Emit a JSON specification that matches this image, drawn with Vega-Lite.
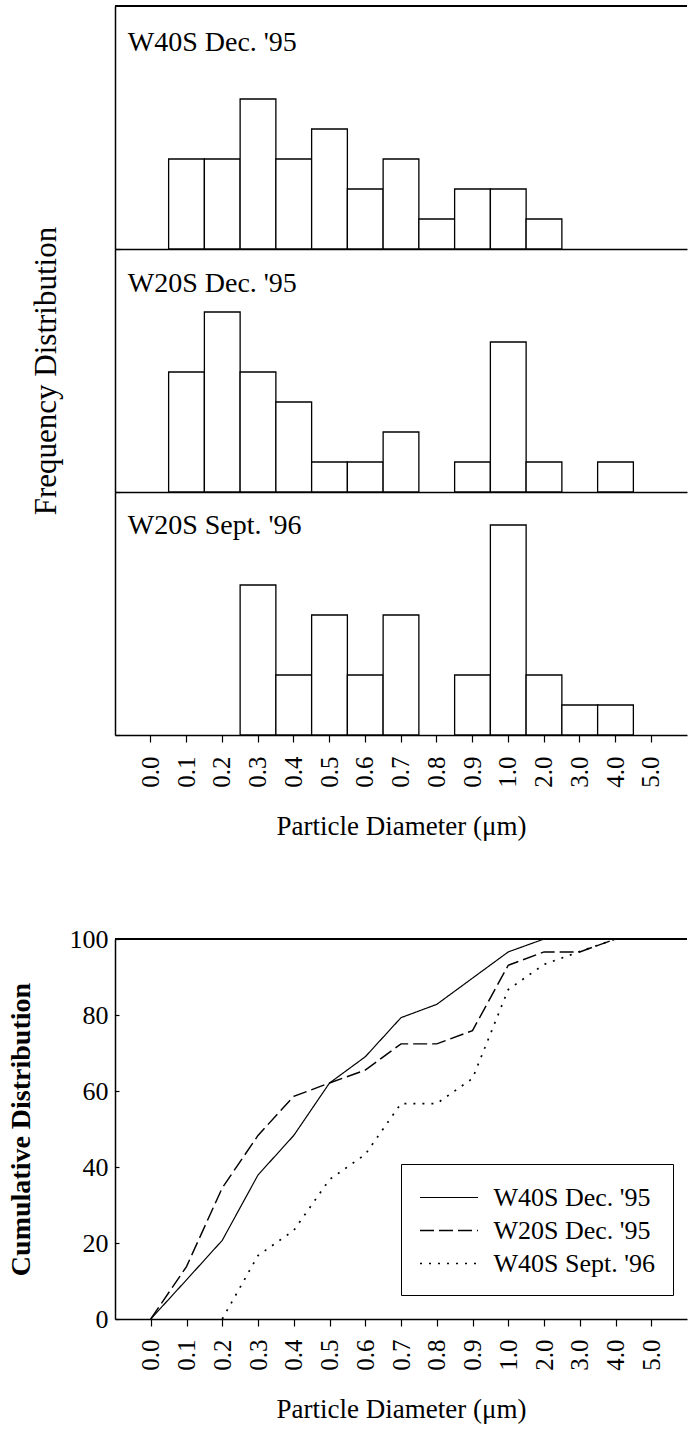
{
  "$schema": "https://vega.github.io/schema/vega-lite/v6.json",
  "background": "white",
  "padding": {"left": 7, "top": 5, "right": 0, "bottom": 5},
  "config": {
    "font": "Liberation Serif",
    "view": {"stroke": null},
    "axis": {"labelFont": "Liberation Serif", "titleFont": "Liberation Serif", "labelColor": "black", "titleColor": "black", "domainColor": "black", "tickColor": "black", "grid": false, "titleFontWeight": "normal", "domainWidth": 1.5, "tickWidth": 1.2},
    "legend": {"labelFont": "Liberation Serif", "labelColor": "black"}
  },
  "datasets": {
    "hist": [
      {"sample": "W40S Dec. '95", "diameter": "0.1", "count": 3},
      {"sample": "W40S Dec. '95", "diameter": "0.2", "count": 3},
      {"sample": "W40S Dec. '95", "diameter": "0.3", "count": 5},
      {"sample": "W40S Dec. '95", "diameter": "0.4", "count": 3},
      {"sample": "W40S Dec. '95", "diameter": "0.5", "count": 4},
      {"sample": "W40S Dec. '95", "diameter": "0.6", "count": 2},
      {"sample": "W40S Dec. '95", "diameter": "0.7", "count": 3},
      {"sample": "W40S Dec. '95", "diameter": "0.8", "count": 1},
      {"sample": "W40S Dec. '95", "diameter": "0.9", "count": 2},
      {"sample": "W40S Dec. '95", "diameter": "1.0", "count": 2},
      {"sample": "W40S Dec. '95", "diameter": "2.0", "count": 1},
      {"sample": "W20S Dec. '95", "diameter": "0.1", "count": 4},
      {"sample": "W20S Dec. '95", "diameter": "0.2", "count": 6},
      {"sample": "W20S Dec. '95", "diameter": "0.3", "count": 4},
      {"sample": "W20S Dec. '95", "diameter": "0.4", "count": 3},
      {"sample": "W20S Dec. '95", "diameter": "0.5", "count": 1},
      {"sample": "W20S Dec. '95", "diameter": "0.6", "count": 1},
      {"sample": "W20S Dec. '95", "diameter": "0.7", "count": 2},
      {"sample": "W20S Dec. '95", "diameter": "0.9", "count": 1},
      {"sample": "W20S Dec. '95", "diameter": "1.0", "count": 5},
      {"sample": "W20S Dec. '95", "diameter": "2.0", "count": 1},
      {"sample": "W20S Dec. '95", "diameter": "4.0", "count": 1},
      {"sample": "W20S Sept. '96", "diameter": "0.3", "count": 5},
      {"sample": "W20S Sept. '96", "diameter": "0.4", "count": 2},
      {"sample": "W20S Sept. '96", "diameter": "0.5", "count": 4},
      {"sample": "W20S Sept. '96", "diameter": "0.6", "count": 2},
      {"sample": "W20S Sept. '96", "diameter": "0.7", "count": 4},
      {"sample": "W20S Sept. '96", "diameter": "0.9", "count": 2},
      {"sample": "W20S Sept. '96", "diameter": "1.0", "count": 7},
      {"sample": "W20S Sept. '96", "diameter": "2.0", "count": 2},
      {"sample": "W20S Sept. '96", "diameter": "3.0", "count": 1},
      {"sample": "W20S Sept. '96", "diameter": "4.0", "count": 1}
    ],
    "cum": [
      {"series": "W40S Dec. '95", "diameter": "0.0", "percent": 0},
      {"series": "W40S Dec. '95", "diameter": "0.1", "percent": 10.3},
      {"series": "W40S Dec. '95", "diameter": "0.2", "percent": 20.7},
      {"series": "W40S Dec. '95", "diameter": "0.3", "percent": 37.9},
      {"series": "W40S Dec. '95", "diameter": "0.4", "percent": 48.3},
      {"series": "W40S Dec. '95", "diameter": "0.5", "percent": 62.1},
      {"series": "W40S Dec. '95", "diameter": "0.6", "percent": 69.0},
      {"series": "W40S Dec. '95", "diameter": "0.7", "percent": 79.3},
      {"series": "W40S Dec. '95", "diameter": "0.8", "percent": 82.8},
      {"series": "W40S Dec. '95", "diameter": "0.9", "percent": 89.7},
      {"series": "W40S Dec. '95", "diameter": "1.0", "percent": 96.6},
      {"series": "W40S Dec. '95", "diameter": "2.0", "percent": 100},
      {"series": "W20S Dec. '95", "diameter": "0.0", "percent": 0},
      {"series": "W20S Dec. '95", "diameter": "0.1", "percent": 13.8},
      {"series": "W20S Dec. '95", "diameter": "0.2", "percent": 34.5},
      {"series": "W20S Dec. '95", "diameter": "0.3", "percent": 48.3},
      {"series": "W20S Dec. '95", "diameter": "0.4", "percent": 58.6},
      {"series": "W20S Dec. '95", "diameter": "0.5", "percent": 62.1},
      {"series": "W20S Dec. '95", "diameter": "0.6", "percent": 65.5},
      {"series": "W20S Dec. '95", "diameter": "0.7", "percent": 72.4},
      {"series": "W20S Dec. '95", "diameter": "0.8", "percent": 72.4},
      {"series": "W20S Dec. '95", "diameter": "0.9", "percent": 75.9},
      {"series": "W20S Dec. '95", "diameter": "1.0", "percent": 93.1},
      {"series": "W20S Dec. '95", "diameter": "2.0", "percent": 96.6},
      {"series": "W20S Dec. '95", "diameter": "3.0", "percent": 96.6},
      {"series": "W20S Dec. '95", "diameter": "4.0", "percent": 100},
      {"series": "W40S Sept. '96", "diameter": "0.2", "percent": 0},
      {"series": "W40S Sept. '96", "diameter": "0.3", "percent": 16.7},
      {"series": "W40S Sept. '96", "diameter": "0.4", "percent": 23.3},
      {"series": "W40S Sept. '96", "diameter": "0.5", "percent": 36.7},
      {"series": "W40S Sept. '96", "diameter": "0.6", "percent": 43.3},
      {"series": "W40S Sept. '96", "diameter": "0.7", "percent": 56.7},
      {"series": "W40S Sept. '96", "diameter": "0.8", "percent": 56.7},
      {"series": "W40S Sept. '96", "diameter": "0.9", "percent": 63.3},
      {"series": "W40S Sept. '96", "diameter": "1.0", "percent": 86.7},
      {"series": "W40S Sept. '96", "diameter": "2.0", "percent": 93.3},
      {"series": "W40S Sept. '96", "diameter": "3.0", "percent": 96.7},
      {"series": "W40S Sept. '96", "diameter": "4.0", "percent": 100}
    ]
  },
  "spacing": 86,
  "resolve": {"legend": {"strokeDash": "independent", "strokeWidth": "independent"}},
  "vconcat": [
    {
      "spacing": 0,
      "bounds": "flush",
      "vconcat": [
        {
          "width": 572,
          "height": 243,
          "data": {"name": "hist"},
          "transform": [{"filter": "datum.sample === \"W40S Dec. '95\""}],
          "layer": [
            {
              "mark": {"type": "bar", "fill": "white", "stroke": "black", "strokeWidth": 1.3},
              "encoding": {
                "x": {"field": "diameter", "type": "ordinal", "scale": {"type": "band", "domain": ["0.0", "0.1", "0.2", "0.3", "0.4", "0.5", "0.6", "0.7", "0.8", "0.9", "1.0", "2.0", "3.0", "4.0", "5.0"], "paddingInner": 0, "paddingOuter": 0.5}, "axis": {"title": null, "labels": false, "ticks": false}},
                "y": {"field": "count", "type": "quantitative", "scale": {"domain": [0, 8.1], "nice": false}, "axis": {"title": null, "labels": false, "values": [0], "tickSize": -5}}
              }
            },
            {
              "mark": {"type": "rule", "color": "black", "strokeWidth": 1.5},
              "encoding": {"y": {"datum": 8.1, "type": "quantitative"}}
            },
            {
              "transform": [{"aggregate": [{"op": "count", "as": "n"}], "groupby": ["sample"]}],
              "mark": {"type": "text", "align": "left", "baseline": "alphabetic", "font": "Liberation Serif", "fontSize": 28, "color": "black", "dx": -23, "dy": 45},
              "encoding": {"x": {"datum": "0.0"}, "y": {"datum": 8.1, "type": "quantitative"}, "text": {"field": "sample"}}
            }
          ]
        },
        {
          "width": 572,
          "height": 243,
          "data": {"name": "hist"},
          "transform": [{"filter": "datum.sample === \"W20S Dec. '95\""}],
          "layer": [
            {
              "mark": {"type": "bar", "fill": "white", "stroke": "black", "strokeWidth": 1.3},
              "encoding": {
                "x": {"field": "diameter", "type": "ordinal", "scale": {"type": "band", "domain": ["0.0", "0.1", "0.2", "0.3", "0.4", "0.5", "0.6", "0.7", "0.8", "0.9", "1.0", "2.0", "3.0", "4.0", "5.0"], "paddingInner": 0, "paddingOuter": 0.5}, "axis": {"title": null, "labels": false, "ticks": false}},
                "y": {"field": "count", "type": "quantitative", "scale": {"domain": [0, 8.1], "nice": false}, "axis": {"title": "Frequency Distribution", "titleFontSize": 31, "titleX": -53, "labels": false, "values": [0], "tickSize": -5}}
              }
            },
            {
              "transform": [{"aggregate": [{"op": "count", "as": "n"}], "groupby": ["sample"]}],
              "mark": {"type": "text", "align": "left", "baseline": "alphabetic", "font": "Liberation Serif", "fontSize": 28, "color": "black", "dx": -23, "dy": 43},
              "encoding": {"x": {"datum": "0.0"}, "y": {"datum": 8.1, "type": "quantitative"}, "text": {"field": "sample"}}
            }
          ]
        },
        {
          "width": 572,
          "height": 243,
          "data": {"name": "hist"},
          "transform": [{"filter": "datum.sample === \"W20S Sept. '96\""}],
          "layer": [
            {
              "mark": {"type": "bar", "fill": "white", "stroke": "black", "strokeWidth": 1.3},
              "encoding": {
                "x": {"field": "diameter", "type": "ordinal", "scale": {"type": "band", "domain": ["0.0", "0.1", "0.2", "0.3", "0.4", "0.5", "0.6", "0.7", "0.8", "0.9", "1.0", "2.0", "3.0", "4.0", "5.0"], "paddingInner": 0, "paddingOuter": 0.5}, "axis": {"title": "Particle Diameter (μm)", "titleFontSize": 27, "titlePadding": 26, "labelAngle": -90, "labelFontSize": 25, "tickSize": 7, "labelPadding": 14}},
                "y": {"field": "count", "type": "quantitative", "scale": {"domain": [0, 8.1], "nice": false}, "axis": {"title": null, "labels": false, "values": [0], "tickSize": -5}}
              }
            },
            {
              "transform": [{"aggregate": [{"op": "count", "as": "n"}], "groupby": ["sample"]}],
              "mark": {"type": "text", "align": "left", "baseline": "alphabetic", "font": "Liberation Serif", "fontSize": 28, "color": "black", "dx": -23, "dy": 42},
              "encoding": {"x": {"datum": "0.0"}, "y": {"datum": 8.1, "type": "quantitative"}, "text": {"field": "sample"}}
            }
          ]
        }
      ]
    },
    {
      "width": 572,
      "height": 380,
      "data": {"name": "cum"},
      "layer": [
        {
          "mark": {"type": "line", "color": "black", "strokeCap": "butt"},
          "encoding": {
            "x": {"field": "diameter", "type": "ordinal", "scale": {"type": "point", "domain": ["0.0", "0.1", "0.2", "0.3", "0.4", "0.5", "0.6", "0.7", "0.8", "0.9", "1.0", "2.0", "3.0", "4.0", "5.0"], "padding": 1}, "axis": {"title": "Particle Diameter (μm)", "titleFontSize": 27, "titlePadding": 26, "labelAngle": -90, "labelFontSize": 25, "tickSize": 7, "labelPadding": 13}},
            "y": {"field": "percent", "type": "quantitative", "scale": {"domain": [0, 100], "nice": false}, "axis": {"title": "Cumulative Distribution", "titleFontWeight": "bold", "titleFontSize": 28, "titleX": -80, "values": [0, 5, 10, 15, 20, 25, 30, 35, 40, 45, 50, 55, 60, 65, 70, 75, 80, 85, 90, 95, 100], "labelExpr": "datum.value % 20 === 0 ? datum.label : ''", "labelFontSize": 26, "tickSize": -4, "labelPadding": 11}},
            "strokeDash": {"field": "series", "type": "nominal", "scale": {"domain": ["W40S Dec. '95", "W20S Dec. '95", "W40S Sept. '96"], "range": [[1, 0], [14, 5], [2, 7]]}, "legend": {"title": null, "orient": "none", "legendX": 286, "legendY": 225, "direction": "vertical", "strokeColor": "black", "fillColor": "white", "padding": 18, "symbolType": "M-2,0H2", "symbolSize": 841, "symbolOffset": 14.5, "symbolStrokeWidth": 1.5, "symbolStrokeColor": "black", "symbolFillColor": "transparent", "labelFontSize": 26, "labelOffset": 29, "rowPadding": 4, "labelLimit": 400}},
            "strokeWidth": {"field": "series", "type": "nominal", "scale": {"domain": ["W40S Dec. '95", "W20S Dec. '95", "W40S Sept. '96"], "range": [1.2, 1.7, 2.0]}, "legend": null}
          }
        },
        {
          "mark": {"type": "rule", "color": "black", "strokeWidth": 1.5},
          "encoding": {"y": {"datum": 100, "type": "quantitative"}}
        }
      ]
    }
  ]
}
